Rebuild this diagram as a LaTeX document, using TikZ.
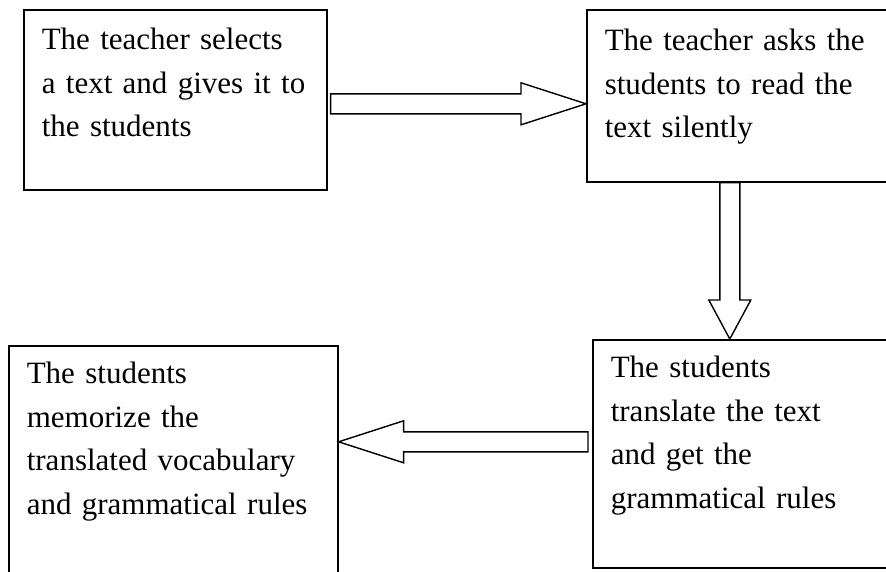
\documentclass[tikz,border=0pt]{standalone}
\usepackage{fontspec}
\setmainfont{Liberation Serif}
\usetikzlibrary{calc}
\tikzset{%
  stepbox/.style = {rectangle,draw,line width=1.6pt,anchor=north west,
        align=left,inner xsep=18pt,inner ysep=0pt,
        font=\fontsize{31}{43.5}\selectfont},
  blockarrow/.style = {draw,line width=1.4pt,to path={
        let \p1=($(\tikztotarget)!#1!(\tikztostart)$) in
        ($(\tikztostart)!10pt!90:(\tikztotarget)$) --
        ($(\p1)!10pt!-90:(\tikztostart)$) --
        ($(\p1)!21pt!-90:(\tikztostart)$) --
        (\tikztotarget) --
        ($(\p1)!21pt!90:(\tikztostart)$) --
        ($(\p1)!10pt!90:(\tikztostart)$) --
        ($(\tikztostart)!10pt!-90:(\tikztotarget)$) -- cycle}},
  blockarrow/.default = 65pt
}

\begin{document}
\begin{tikzpicture}[x=1pt,y=-1pt]
   \useasboundingbox (0,0) rectangle (886,571);
   \clip (0,0) rectangle (886,571);
   \node[stepbox,text width=267pt,text height=40pt,text depth=140pt] (select)
        at (23,9) {The teacher selects\\a text and gives it to\\the students};
   \node[stepbox,text width=278pt,text height=41pt,text depth=131pt] (read)
        at (586,9) {The teacher asks the\\students to read the\\text silently};
   \node[stepbox,text width=272pt,text height=38pt,text depth=190pt] (translate)
        at (592,339) {The students\\translate the text\\and get the\\grammatical rules};
   \node[stepbox,text width=293pt,text height=38pt,text depth=217pt] (memorize)
        at (8,345) {The students\\memorize the\\translated vocabulary\\and grammatical rules};
   \coordinate (a1s) at ([xshift=3pt,yshift=-4pt]select.east);
   \coordinate (a1e) at (read.west |- a1s);
   \coordinate (a2s) at ([xshift=-14pt]read.south);
   \coordinate (a2e) at (translate.north -| a2s);
   \coordinate (a3s) at ([xshift=-4pt,yshift=12pt]translate.west);
   \coordinate (a3e) at (memorize.east |- a3s);
   \draw[blockarrow] (a1s) to (a1e);
   \draw[blockarrow=39pt] (a2s) to (a2e);
   \draw[blockarrow] (a3s) to (a3e);
\end{tikzpicture}
\end{document}
